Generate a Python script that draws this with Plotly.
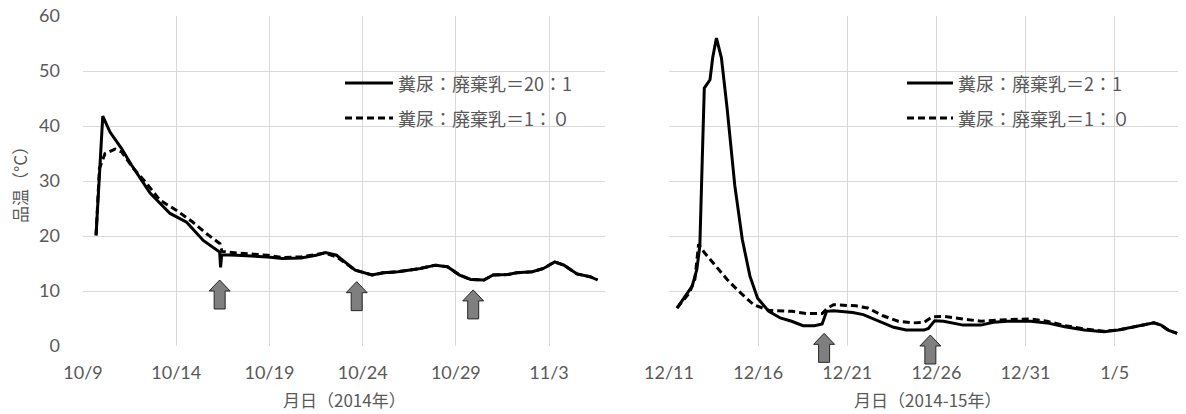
import pandas as pd
import plotly.graph_objects as go

# ---------------- data ----------------
# Left panel: 2014, days since 10/9
left_start = "2014-10-09"
left_names = ["糞尿：廃棄乳＝20：1", "糞尿：廃棄乳＝1：０"]
left_a_days = [0.70, 1.06, 1.45, 2.07, 2.6, 3.6, 4.67, 5.56, 6.45, 7.33, 7.38, 7.44, 8.24, 9.9, 10.7,
               11.7, 12.5, 13.0, 13.6, 14.6, 15.5, 16.1, 16.9, 17.5, 18.1, 18.9, 19.55, 20.2, 20.8,
               21.5, 22.0, 22.8, 23.25, 24.1, 24.7, 25.3, 25.8, 26.5, 27.2, 27.6]
left_a_vals = [20.1, 41.8, 38.9, 35.9, 32.9, 27.8, 24.1, 22.5, 19.2, 17.1, 14.3, 16.6, 16.5, 16.2, 15.9,
               16.0, 16.5, 17.0, 16.5, 13.8, 12.9, 13.3, 13.5, 13.8, 14.1, 14.7, 14.4, 12.9, 12.1,
               12.0, 12.9, 13.0, 13.3, 13.5, 14.1, 15.3, 14.7, 13.1, 12.6, 12.0]
left_b_days = [0.70, 0.88, 1.18, 1.72, 2.07, 2.7, 3.4, 4.13, 5.0, 5.9, 6.63, 7.35, 7.45, 8.24, 9.9,
               10.7, 11.7, 12.5, 13.0, 13.6, 14.6, 15.5, 16.1, 16.9, 17.5, 18.1, 18.9, 19.55, 20.2,
               20.8, 21.5, 22.0, 22.8, 23.25, 24.1, 24.7, 25.3, 25.8, 26.5, 27.2, 27.6]
left_b_vals = [20.1, 32.3, 35.0, 35.8, 35.3, 32.3, 29.6, 26.5, 24.7, 22.5, 20.4, 18.6, 17.2, 16.9, 16.5,
               16.1, 16.2, 16.7, 16.9, 16.2, 13.8, 12.9, 13.3, 13.5, 13.8, 14.1, 14.7, 14.4, 12.9,
               12.1, 12.0, 12.9, 13.0, 13.3, 13.5, 14.1, 15.3, 14.7, 13.1, 12.6, 12.0]
left_tick_days = [0, 5, 10, 15, 20, 25]
left_tick_text = ["10/9", "10/14", "10/19", "10/24", "10/29", "11/3"]
left_range_days = [0, 28]
left_arrow_days = [7.33, 14.68, 20.93]
left_arrow_vals = [12.0, 11.7, 10.2]
left_xtitle = "月日（2014年）"

# Right panel: 2014-15, days since 12/11
right_start = "2014-12-11"
right_names = ["糞尿：廃棄乳＝2：1", "糞尿：廃棄乳＝1：０"]
right_a_days = [0.45, 0.92, 1.3, 1.56, 1.73, 1.83, 1.98, 2.3, 2.45, 2.66, 2.94, 3.26, 3.69, 4.11,
                4.54, 4.97, 5.6, 6.24, 6.88, 7.52, 8.16, 8.59, 8.84, 9.23, 10.3, 10.9, 11.8, 12.6,
                13.3, 14.3, 14.55, 14.9, 15.4, 16.5, 17.5, 18.2, 19.0, 20.3, 21.2, 22.2, 23.3,
                24.4, 25.2, 26.1, 27.2, 27.6, 28.0, 28.5]
right_a_vals = [6.9, 9.0, 10.9, 13.9, 18.2, 29.8, 46.9, 48.4, 52.4, 56.0, 52.4, 43.2, 29.2, 19.4,
                12.7, 8.7, 6.3, 5.1, 4.5, 3.7, 3.7, 4.0, 6.3, 6.4, 6.1, 5.7, 4.5, 3.4,
                2.9, 2.9, 3.2, 4.6, 4.5, 3.8, 3.8, 4.3, 4.5, 4.5, 4.2, 3.5, 2.9,
                2.6, 2.9, 3.5, 4.2, 3.8, 2.9, 2.3]
right_b_days = [0.45, 1.13, 1.45, 1.66, 1.98, 2.62, 3.26, 3.9, 4.75, 5.6, 6.9, 7.74, 8.59, 8.9,
                9.23, 10.5, 11.15, 12.0, 12.85, 13.7, 14.3, 14.77, 15.4, 16.5, 17.5, 19.0, 20.3,
                21.2, 22.2, 23.3, 24.4, 25.2, 26.1, 27.2, 27.6, 28.0, 28.5]
right_b_vals = [6.9, 9.6, 12.1, 18.5, 17.0, 14.5, 12.1, 10.0, 7.5, 6.5, 6.3, 5.9, 5.9, 6.9,
                7.5, 7.3, 6.9, 5.5, 4.5, 4.2, 4.3, 5.3, 5.4, 4.9, 4.5, 4.8, 4.9,
                4.5, 3.7, 3.1, 2.7, 2.9, 3.5, 4.2, 3.8, 2.9, 2.3]
right_tick_days = [0, 5, 10, 15, 20, 25]
right_tick_text = ["12/11", "12/16", "12/21", "12/26", "12/31", "1/5"]
right_range_days = [0, 29]
right_arrow_days = [8.7, 14.66]
right_arrow_vals = [2.3, 2.0]
right_xtitle = "月日（2014-15年）"

y_title = "品温（°C）"
y_ticks = [0, 10, 20, 30, 40, 50, 60]
y_range = [0, 60.001]

# ---------------- helpers ----------------
# The page body has an 8px default margin, so the figure sits at (8, 8) in the window.
OFF = 8
W, H = 1186 - OFF, 414 - OFF


def to_dates(start, days):
    return pd.Timestamp(start) + pd.to_timedelta(days, unit="D")


def px_x(x):  # window pixel -> paper x
    return (x - OFF) / W


def px_y(y):  # window pixel -> paper y
    return 1 - (y - OFF) / H


GRID = "#d9d9d9"
TXT = "#595959"
NUM_FONT = "Lato, Noto Sans CJK JP, sans-serif"
JP_FONT = "Noto Sans CJK JP, sans-serif"
LINE_W = 3
DASH = "7px,4px"

fig = go.Figure()

panels = [
    dict(start=left_start, names=left_names, a=(left_a_days, left_a_vals), b=(left_b_days, left_b_vals),
         xa="x", ya="y"),
    dict(start=right_start, names=right_names, a=(right_a_days, right_a_vals), b=(right_b_days, right_b_vals),
         xa="x2", ya="y2"),
]
for p in panels:
    fig.add_trace(go.Scatter(x=to_dates(p["start"], p["a"][0]), y=p["a"][1], mode="lines",
                             name=p["names"][0], line=dict(color="black", width=LINE_W),
                             xaxis=p["xa"], yaxis=p["ya"], showlegend=False))
    fig.add_trace(go.Scatter(x=to_dates(p["start"], p["b"][0]), y=p["b"][1], mode="lines",
                             name=p["names"][1], line=dict(color="black", width=LINE_W, dash=DASH),
                             xaxis=p["xa"], yaxis=p["ya"], showlegend=False))

# geometry (window pixels)
L_X0, L_X1 = 83, 605
R_X0, R_X1 = 669, 1186
Y_TOP, Y_BOT = 16, 346
ydom = [px_y(Y_BOT), px_y(Y_TOP)]

xaxis_common = dict(showgrid=True, gridcolor=GRID, gridwidth=1, zeroline=False, showline=False,
                    automargin=False, ticks="", ticklabeloverflow="allow",
                    tickfont=dict(family=NUM_FONT, size=18, color=TXT), ticklabelstandoff=14)
yaxis_common = dict(range=y_range, tickvals=y_ticks, showgrid=True, gridcolor=GRID, gridwidth=1,
                    zeroline=False, showline=False, ticks="", automargin=False,
                    ticklabeloverflow="allow")

fig.update_layout(
    width=W, height=H, margin=dict(l=0, r=0, t=0, b=0, autoexpand=False),
    paper_bgcolor="white", plot_bgcolor="white",
    xaxis=dict(domain=[px_x(L_X0), px_x(L_X1)], anchor="y",
               range=list(to_dates(left_start, left_range_days)),
               tickvals=list(to_dates(left_start, left_tick_days)), ticktext=left_tick_text,
               **xaxis_common),
    xaxis2=dict(domain=[px_x(R_X0), min(1.0, px_x(R_X1))], anchor="y2",
                range=list(to_dates(right_start, right_range_days)),
                tickvals=list(to_dates(right_start, right_tick_days)), ticktext=right_tick_text,
                **xaxis_common),
    yaxis=dict(domain=ydom, anchor="x", showticklabels=True,
               tickfont=dict(family=NUM_FONT, size=18, color=TXT), ticklabelstandoff=22,
               **yaxis_common),
    yaxis2=dict(domain=ydom, anchor="x2", showticklabels=False, **yaxis_common),
    showlegend=False,
)

# arrows (block arrows, pixel-sized, anchored at data tip)
ARROW = "M0,0 L10.5,-11 L5.5,-11 L5.5,-29 L-5.5,-29 L-5.5,-11 L-10.5,-11 Z"
for start, days, vals, xr, yr in [(left_start, left_arrow_days, left_arrow_vals, "x", "y domain"),
                                   (right_start, right_arrow_days, right_arrow_vals, "x2", "y2 domain")]:
    for d, v in zip(days, vals):
        fig.add_shape(type="path", xref=xr, yref=yr, xsizemode="pixel", ysizemode="pixel",
                      xanchor=to_dates(start, [d])[0], yanchor=(v - y_range[0]) / (y_range[1] - y_range[0]),
                      path=ARROW, fillcolor="#7f7f7f", line=dict(color="#262626", width=1), layer="above")

# manual legends
leg_rows_y = [83, 118]
for names, lx0, lx1 in [(left_names, 345, 393), (right_names, 907, 953)]:
    for i, (nm, ry) in enumerate(zip(names, leg_rows_y)):
        fig.add_shape(type="line", xref="paper", yref="paper", x0=px_x(lx0), x1=px_x(lx1),
                      y0=px_y(ry), y1=px_y(ry),
                      line=dict(color="black", width=LINE_W, dash=None if i == 0 else DASH))
        fig.add_annotation(xref="paper", yref="paper", x=px_x(lx1 + 3), y=px_y(ry), text=nm,
                           showarrow=False, xanchor="left", yanchor="middle",
                           font=dict(family=JP_FONT, size=18, color=TXT))

# axis titles
fig.add_annotation(xref="paper", yref="paper", x=px_x(19), y=(ydom[0] + ydom[1]) / 2, text=y_title,
                   textangle=-90, showarrow=False, xanchor="center", yanchor="middle",
                   font=dict(family=JP_FONT, size=17, color=TXT))
fig.add_annotation(xref="paper", yref="paper", x=px_x((L_X0 + L_X1) / 2), y=px_y(399), text=left_xtitle,
                   showarrow=False, xanchor="center", yanchor="middle",
                   font=dict(family=JP_FONT, size=17, color=TXT))
fig.add_annotation(xref="paper", yref="paper", x=px_x((R_X0 + R_X1) / 2), y=px_y(399), text=right_xtitle,
                   showarrow=False, xanchor="center", yanchor="middle",
                   font=dict(family=JP_FONT, size=17, color=TXT))

fig.write_html("out.html")
